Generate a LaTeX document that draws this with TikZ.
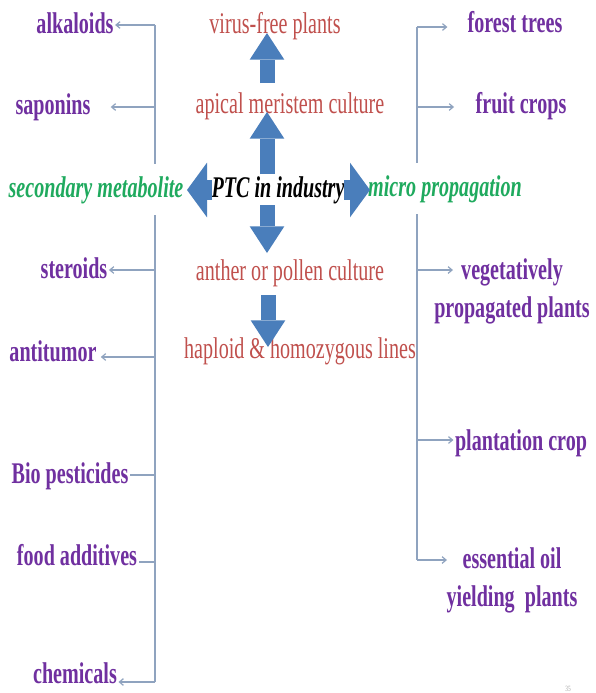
\documentclass[tikz,border=0pt]{standalone}
\usepackage{fontspec}
\setmainfont{Liberation Serif}[FakeStretch=0.67]
\usetikzlibrary{arrows.meta}
\pgfdeclarelayer{background}
\pgfsetlayers{background,main}
\definecolor{purp}{HTML}{7030A0}
\definecolor{redt}{HTML}{C0504D}
\definecolor{grn}{HTML}{1FAA5E}
\definecolor{blu}{HTML}{4A7EBB}
\definecolor{lne}{HTML}{8FA3BF}
\begin{document}
\begin{tikzpicture}[x=0.75pt,y=-0.75pt,
  base/.style={inner sep=1pt,anchor=base,font=\fontsize{22.5}{28.5}\selectfont},
  pl/.style={base,text=purp,font=\bfseries\fontsize{22.5}{28.5}\selectfont},
  rd/.style={base,text=redt},
  gr/.style={base,text=grn,fill=white,inner ysep=9pt,font=\bfseries\itshape\fontsize{22.5}{28.5}\selectfont},
  bk/.style={base,text=black,font=\bfseries\itshape\fontsize{22.5}{28.5}\selectfont},
  conn/.style={draw=lne,line width=0.9pt,-{Straight Barb[length=3pt,width=5pt]}},
  trunk/.style={draw=lne,line width=0.9pt},
  bigv/.style={draw=blu,line width=11.25pt,-{Triangle[length=20pt,width=26pt,line width=0pt]}},
  bigh/.style={draw=blu,line width=15pt,-{Triangle[length=15pt,width=41pt,line width=0pt]}}]
\useasboundingbox (0,0) rectangle (596,693);

% left column
\node[pl] (alk)  at (75,33)  {alkaloids};
\node[pl] (sap)  at (53,114) {saponins};
\node[gr] (sec)  at (96,197) {secondary metabolite};
\node[pl] (ster) at (74,278) {steroids};
\node[pl] (anti) at (53,361) {antitumor};
\node[pl] (bio)  at (70,483) {Bio pesticides};
\node[pl] (food) at (77,565) {food additives};
\node[pl] (chem) at (75,683) {chemicals};

% centre
\node[rd] (virus)   at (275,33)  {virus-free plants};
\node[rd] (apical)  at (290,113) {apical meristem culture};
\node[bk] (ptc)     at (278,197) {PTC in industry};
\node[gr] (micro)   at (445,196) {micro propagation};
\node[rd] (anther)  at (290,280) {anther or pollen culture};
\node[rd] (haploid) at (300,358) {haploid \& homozygous lines};

% right column
\node[pl] (forest) at (515,32)  {forest trees};
\node[pl] (fruit)  at (521,113) {fruit crops};
\node[pl,align=center] (veg) at (512,317) {vegetatively\\propagated plants};
\node[pl] (plant)  at (521,450) {plantation crop};
\node[pl,align=center] (ess) at (512,606) {essential oil\\yielding~ plants};

\node[text=gray!70,font=\fontsize{6}{7}\selectfont,inner sep=0pt] (pg) at (568,689) {35};

% connector points
\coordinate (L1) at (155,25);
\coordinate (L2) at (155,107);
\coordinate (L3) at (155,270);
\coordinate (L4) at (155,357);
\coordinate (L5) at (155,475);
\coordinate (L6) at (155,562);
\coordinate (L7) at (155,682);
\coordinate (R1) at (417,27);
\coordinate (R2) at (417,107);
\coordinate (R3) at (417,270);
\coordinate (R4) at (417,440);
\coordinate (R5) at (417,560);
\coordinate (vegtip) at (453,270);
\coordinate (esstip) at (447,560);

\begin{pgfonlayer}{background}
\fill[white] (0,0) rectangle (596,693);
\draw[trunk] (L1) -- (L7);
\draw[trunk] (R1) -- (R5);
\draw[conn] (L1) -- (L1 -| alk.east);
\draw[conn,shorten >=14pt] (L2) -- (L2 -| sap.east);
\draw[conn] (L3) -- (L3 -| ster.east);
\draw[conn,shorten >=2pt] (L4) -- (L4 -| anti.east);
\draw[trunk] (L5) -- (L5 -| bio.east);
\draw[trunk] (L6) -- (L6 -| food.east);
\draw[conn] (L7) -- (L7 -| chem.east);
\draw[conn,shorten >=14pt] (R1) -- (R1 -| forest.west);
\draw[conn,shorten >=15pt] (R2) -- (R2 -| fruit.west);
\draw[conn] (R3) -- (vegtip);
\draw[conn] (R4) -- (R4 -| plant.west);
\draw[conn] (R5) -- (esstip);
\end{pgfonlayer}

% blue block arrows
\coordinate (u1s) at (267,83);  \coordinate (u1e) at (267,33);
\coordinate (u2s) at (267,174); \coordinate (u2e) at (267,112);
\coordinate (d1s) at (267,205); \coordinate (d1e) at (267,253);
\coordinate (d2s) at (268,295); \coordinate (d2e) at (268,347);
\coordinate (ls)  at (212,190); \coordinate (le)  at (187,190);
\coordinate (rs)  at (344,190); \coordinate (re)  at (370,190);
\draw[bigv] (u1s) -- (u1e);
\draw[bigv] (u2s) -- (u2e);
\draw[bigv] (d1s) -- (d1e);
\draw[bigv] (d2s) -- (d2e);
\draw[bigh] (ls) -- (le);
\draw[bigh] (rs) -- (re);
\end{tikzpicture}
\end{document}
